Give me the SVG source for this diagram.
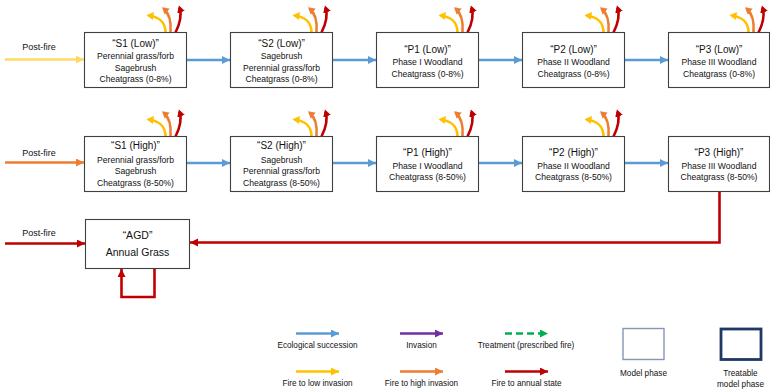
<svg xmlns="http://www.w3.org/2000/svg" xmlns:xlink="http://www.w3.org/1999/xlink" width="770" height="389" viewBox="0 0 770 389">
<style>
  .box{fill:#fff;stroke:#404040;stroke-width:1.1}
  text{font-family:"Liberation Sans",Arial,sans-serif;fill:#111;text-anchor:middle}
  .t{font-size:10px}
  .s{font-size:8.6px}
  .big{font-size:10.5px}
  .pf{font-size:9px}
  .lg{font-size:8.2px}
  .ln{fill:none;stroke-width:2.6}
  .blue{stroke:#5B9BD5;marker-end:url(#hBlue)}
  .purple{stroke:#7030A0;marker-end:url(#hPurple)}
  .green{stroke:#00B050;marker-end:url(#hGreen);stroke-dasharray:7,4}
  .yellow{stroke:#FFC000;marker-end:url(#hYellow)}
  .lyellow{stroke:#FFD966;marker-end:url(#hLYellow)}
  .orange{stroke:#ED7D31;marker-end:url(#hOrange)}
  .red{stroke:#C00000;marker-end:url(#hRed)}
  .fy{fill:none;stroke:#FFC000;stroke-width:2.6;marker-end:url(#fYellow)}
  .fo{fill:none;stroke:#ED7D31;stroke-width:2.6;marker-end:url(#fOrange)}
  .fr{fill:none;stroke:#C00000;stroke-width:2.6;marker-end:url(#fRed)}
</style>
<defs>
  <marker id="hBlue" markerUnits="userSpaceOnUse" markerWidth="10" markerHeight="10" refX="8" refY="4" orient="auto"><path d="M0,0 L8,4 L0,8 z" fill="#5B9BD5"/></marker>
  <marker id="hPurple" markerUnits="userSpaceOnUse" markerWidth="10" markerHeight="10" refX="8" refY="4" orient="auto"><path d="M0,0 L8,4 L0,8 z" fill="#7030A0"/></marker>
  <marker id="hGreen" markerUnits="userSpaceOnUse" markerWidth="10" markerHeight="10" refX="8" refY="4" orient="auto"><path d="M0,0 L8,4 L0,8 z" fill="#00B050"/></marker>
  <marker id="hYellow" markerUnits="userSpaceOnUse" markerWidth="10" markerHeight="10" refX="8" refY="4" orient="auto"><path d="M0,0 L8,4 L0,8 z" fill="#FFC000"/></marker>
  <marker id="hLYellow" markerUnits="userSpaceOnUse" markerWidth="10" markerHeight="10" refX="8" refY="4" orient="auto"><path d="M0,0 L8,4 L0,8 z" fill="#FFD966"/></marker>
  <marker id="hOrange" markerUnits="userSpaceOnUse" markerWidth="10" markerHeight="10" refX="8" refY="4" orient="auto"><path d="M0,0 L8,4 L0,8 z" fill="#ED7D31"/></marker>
  <marker id="hRed" markerUnits="userSpaceOnUse" markerWidth="10" markerHeight="10" refX="8" refY="4" orient="auto"><path d="M0,0 L8,4 L0,8 z" fill="#C00000"/></marker>
  <marker id="fYellow" markerUnits="userSpaceOnUse" markerWidth="9" markerHeight="9" refX="5" refY="4" orient="auto"><path d="M0,0 L7,4 L0,8 z" fill="#FFC000"/></marker>
  <marker id="fOrange" markerUnits="userSpaceOnUse" markerWidth="9" markerHeight="9" refX="5" refY="4" orient="auto"><path d="M0,0 L7,4 L0,8 z" fill="#ED7D31"/></marker>
  <marker id="fRed" markerUnits="userSpaceOnUse" markerWidth="9" markerHeight="9" refX="5" refY="4" orient="auto"><path d="M0,0 L7,4 L0,8 z" fill="#C00000"/></marker>
  <g id="fire">
    <path class="fy" d="M-21,0 C-21,-11 -29,-16 -38,-17"/>
    <path class="fo" d="M-16,0 C-15,-12 -17,-19 -23,-24"/>
    <path class="fr" d="M-11,0 C-6,-10 -5,-19 -7,-25"/>
  </g>
</defs>

<!-- fire arrows (drawn under boxes) -->
<g id="fire-arrows">
  <use xlink:href="#fire" href="#fire" x="186.5" y="32.5"/>
  <use xlink:href="#fire" href="#fire" x="332.5" y="32.5"/>
  <use xlink:href="#fire" href="#fire" x="478.5" y="32.5"/>
  <use xlink:href="#fire" href="#fire" x="624.5" y="32.5"/>
  <use xlink:href="#fire" href="#fire" x="769.5" y="32.5"/>
  <use xlink:href="#fire" href="#fire" x="186.5" y="136.5"/>
  <use xlink:href="#fire" href="#fire" x="332.5" y="136.5"/>
  <use xlink:href="#fire" href="#fire" x="478.5" y="136.5"/>
  <use xlink:href="#fire" href="#fire" x="624.5" y="136.5"/>
</g>

<g id="connectors">
  <line class="ln lyellow" x1="5" y1="59.5" x2="84" y2="59.5"/>
  <line class="ln blue" x1="187" y1="60" x2="230" y2="60"/>
  <line class="ln blue" x1="333" y1="60" x2="376" y2="60"/>
  <line class="ln blue" x1="479" y1="60" x2="522" y2="60"/>
  <line class="ln blue" x1="625" y1="60" x2="668" y2="60"/>
  <line class="ln orange" x1="5" y1="162.5" x2="84" y2="162.5"/>
  <line class="ln blue" x1="187" y1="163" x2="230" y2="163"/>
  <line class="ln blue" x1="333" y1="163" x2="376" y2="163"/>
  <line class="ln blue" x1="479" y1="163" x2="522" y2="163"/>
  <line class="ln blue" x1="625" y1="163" x2="668" y2="163"/>
  <line class="ln red" x1="5" y1="243.5" x2="85" y2="243.5"/>
  <path class="ln red" d="M719.5,191 L719.5,242.5 L190,242.5"/>
  <path class="ln red" d="M154.5,268.5 L154.5,297 L121.5,297 L121.5,269"/>
</g>

<g id="postfire-labels">
  <text class="pf" x="39" y="50">Post-fire</text>
  <text class="pf" x="39" y="155.5">Post-fire</text>
  <text class="pf" x="39" y="235.5">Post-fire</text>
</g>

<g id="S1-low">
  <rect class="box" x="84.5" y="32.5" width="102" height="55"/>
  <text class="t" x="135.5" y="47">“S1 (Low)”</text>
  <text class="s" x="135.5" y="59">Perennial grass/forb</text>
  <text class="s" x="135.5" y="70.5">Sagebrush</text>
  <text class="s" x="135.5" y="82">Cheatgrass (0-8%)</text>
</g>
<g id="S2-low">
  <rect class="box" x="230.5" y="32.5" width="102" height="55"/>
  <text class="t" x="281.5" y="47">“S2 (Low)”</text>
  <text class="s" x="281.5" y="59">Sagebrush</text>
  <text class="s" x="281.5" y="70.5">Perennial grass/forb</text>
  <text class="s" x="281.5" y="82">Cheatgrass (0-8%)</text>
</g>
<g id="P1-low">
  <rect class="box" x="376.5" y="32.5" width="102" height="55"/>
  <text class="t" x="427.5" y="53">“P1 (Low)”</text>
  <text class="s" x="427.5" y="65">Phase I Woodland</text>
  <text class="s" x="427.5" y="76.5">Cheatgrass (0-8%)</text>
</g>
<g id="P2-low">
  <rect class="box" x="522.5" y="32.5" width="102" height="55"/>
  <text class="t" x="573.5" y="53">“P2 (Low)”</text>
  <text class="s" x="573.5" y="65">Phase II Woodland</text>
  <text class="s" x="573.5" y="76.5">Cheatgrass (0-8%)</text>
</g>
<g id="P3-low">
  <rect class="box" x="668.5" y="32.5" width="101" height="55"/>
  <text class="t" x="719" y="53">“P3 (Low)”</text>
  <text class="s" x="719" y="65">Phase III Woodland</text>
  <text class="s" x="719" y="76.5">Cheatgrass (0-8%)</text>
</g>

<g id="S1-high">
  <rect class="box" x="84.5" y="136.5" width="102" height="55"/>
  <text class="t" x="135.5" y="149">“S1 (High)”</text>
  <text class="s" x="135.5" y="162.5">Perennial grass/forb</text>
  <text class="s" x="135.5" y="174">Sagebrush</text>
  <text class="s" x="135.5" y="185.5">Cheatgrass (8-50%)</text>
</g>
<g id="S2-high">
  <rect class="box" x="230.5" y="136.5" width="102" height="55"/>
  <text class="t" x="281.5" y="149">“S2 (High)”</text>
  <text class="s" x="281.5" y="162.5">Sagebrush</text>
  <text class="s" x="281.5" y="174">Perennial grass/forb</text>
  <text class="s" x="281.5" y="185.5">Cheatgrass (8-50%)</text>
</g>
<g id="P1-high">
  <rect class="box" x="376.5" y="136.5" width="102" height="55"/>
  <text class="t" x="427.5" y="156">“P1 (High)”</text>
  <text class="s" x="427.5" y="168.5">Phase I Woodland</text>
  <text class="s" x="427.5" y="180">Cheatgrass (8-50%)</text>
</g>
<g id="P2-high">
  <rect class="box" x="522.5" y="136.5" width="102" height="55"/>
  <text class="t" x="573.5" y="156">“P2 (High)”</text>
  <text class="s" x="573.5" y="168.5">Phase II Woodland</text>
  <text class="s" x="573.5" y="180">Cheatgrass (8-50%)</text>
</g>
<g id="P3-high">
  <rect class="box" x="668.5" y="136.5" width="101" height="55"/>
  <text class="t" x="719" y="156">“P3 (High)”</text>
  <text class="s" x="719" y="168.5">Phase III Woodland</text>
  <text class="s" x="719" y="180">Cheatgrass (8-50%)</text>
</g>

<g id="AGD">
  <rect class="box" x="85.5" y="219.5" width="104" height="49"/>
  <text class="big" x="137.5" y="239">“AGD”</text>
  <text class="big" x="137.5" y="255.5">Annual Grass</text>
</g>

<g id="legend">
  <line class="ln blue" x1="296" y1="333.5" x2="339" y2="333.5"/>
  <text class="lg" x="317.5" y="348">Ecological succession</text>
  <line class="ln purple" x1="400" y1="333.5" x2="443" y2="333.5"/>
  <text class="lg" x="421.5" y="348">Invasion</text>
  <line class="ln green" x1="505" y1="333.5" x2="548" y2="333.5"/>
  <text class="lg" x="526" y="348">Treatment (prescribed fire)</text>
  <line class="ln yellow" x1="296" y1="371.5" x2="339" y2="371.5"/>
  <text class="lg" x="317.5" y="386">Fire to low invasion</text>
  <line class="ln orange" x1="400" y1="371.5" x2="443" y2="371.5"/>
  <text class="lg" x="421.5" y="386">Fire to high invasion</text>
  <line class="ln red" x1="505" y1="371.5" x2="548" y2="371.5"/>
  <text class="lg" x="526.5" y="386">Fire to annual state</text>
  <rect x="623" y="328.5" width="41" height="31" fill="#fff" stroke="#8497B0" stroke-width="1.4"/>
  <text class="lg" x="643.5" y="375.5">Model phase</text>
  <rect x="721" y="329" width="40" height="30.5" fill="#fff" stroke="#1F3864" stroke-width="2.8"/>
  <text class="lg" x="740.5" y="376">Treatable</text>
  <text class="lg" x="740.5" y="387">model phase</text>
</g>
</svg>
